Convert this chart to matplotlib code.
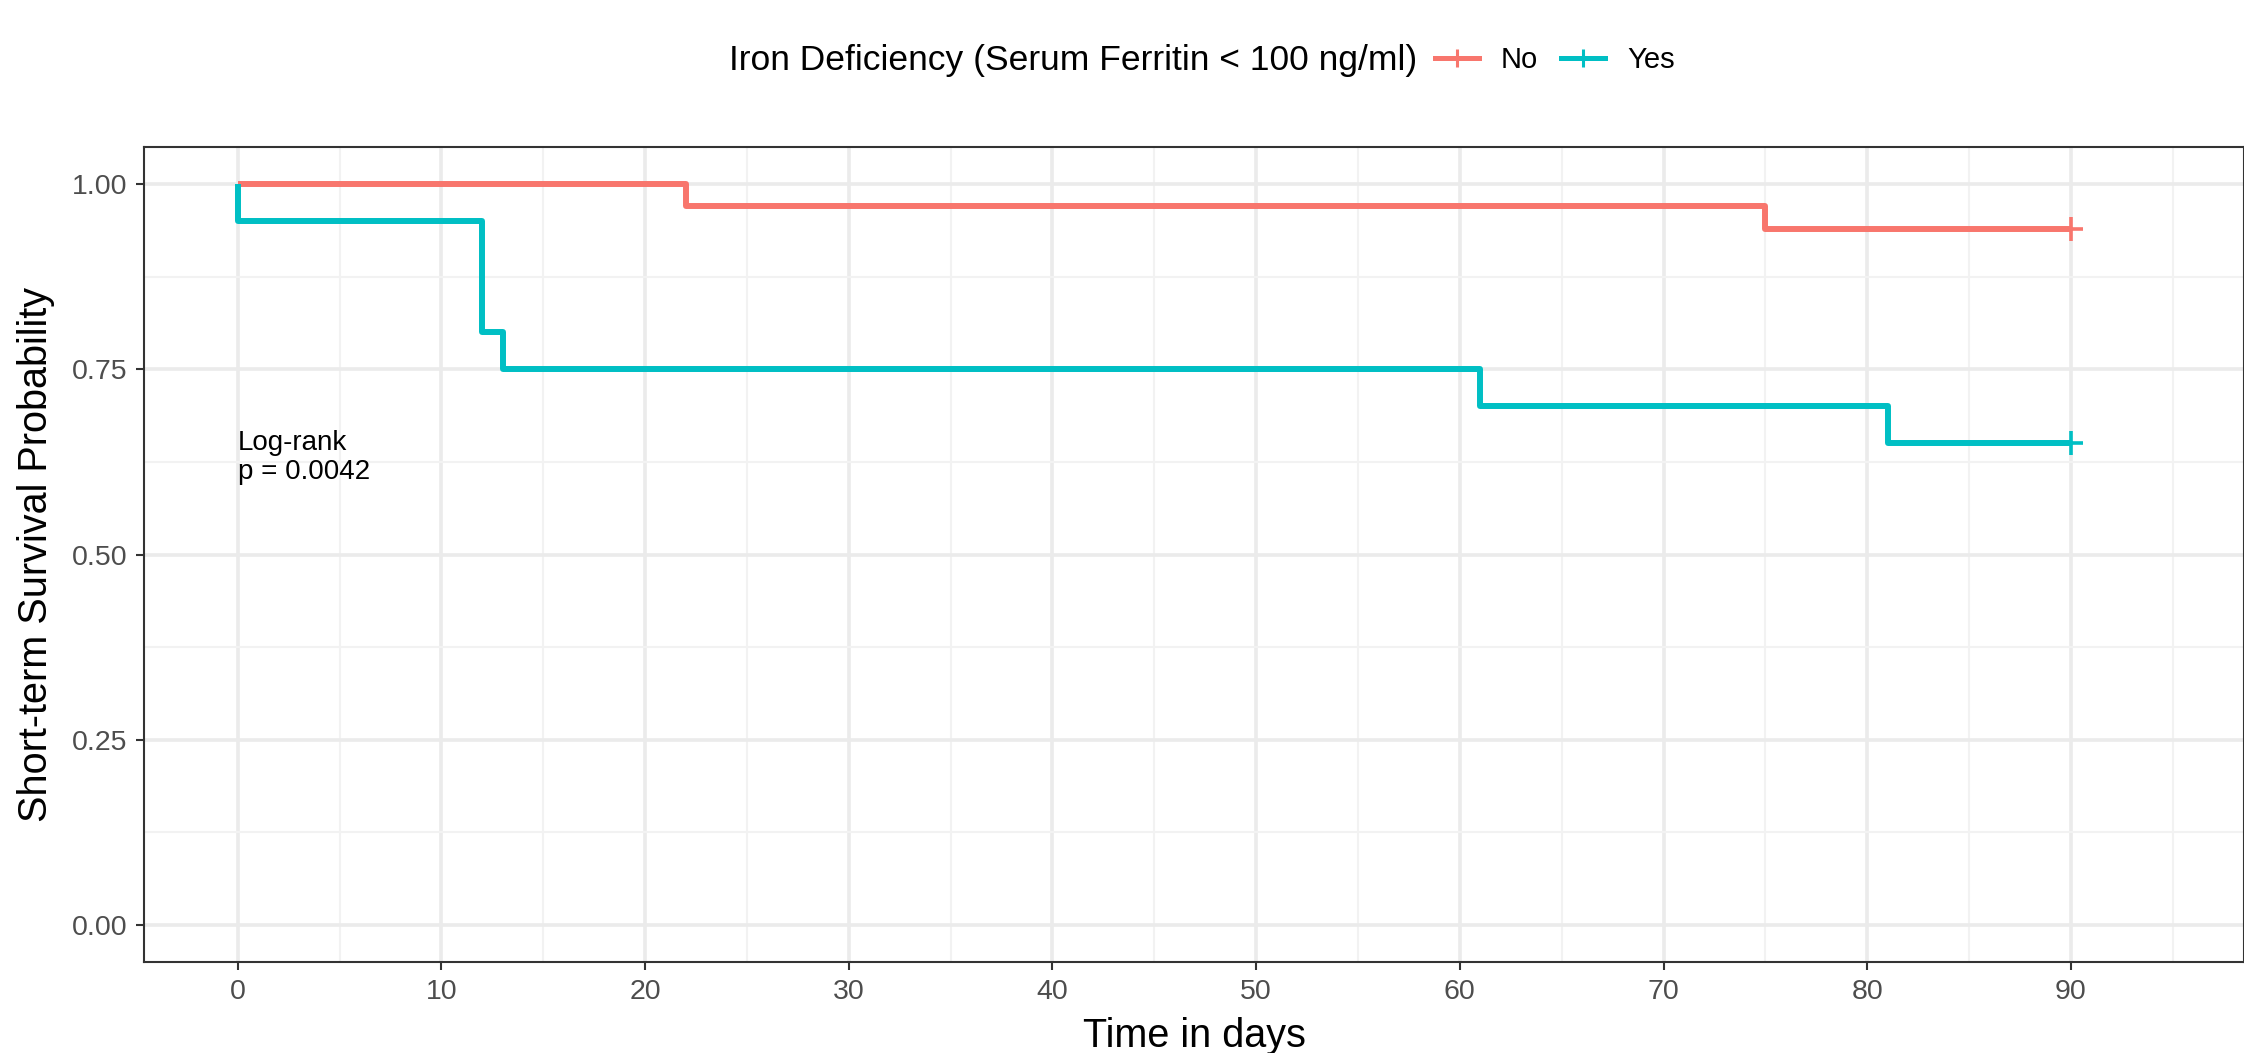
import numpy as np
import matplotlib
matplotlib.use("Agg")
import matplotlib.pyplot as plt
from matplotlib.lines import Line2D

plt.rcParams['font.family'] = ['Liberation Sans', 'DejaVu Sans']

# Kaplan-Meier step data
time_no = [0, 22, 75, 90]
surv_no = [1.00, 0.97, 0.94, 0.94]
time_yes = [0, 0, 12, 13, 61, 81, 90]
surv_yes = [1.00, 0.95, 0.80, 0.75, 0.70, 0.65, 0.65]
groups = ['No', 'Yes']
colors = ['#F8766D', '#00BFC4']
x_ticks = [0, 10, 20, 30, 40, 50, 60, 70, 80, 90]
y_ticks = [0.00, 0.25, 0.50, 0.75, 1.00]
pval_text = "Log-rank\np = 0.0042"

fig = plt.figure(figsize=(22.44, 10.53), dpi=100)
ax = fig.add_axes([0.0642, 0.0864, 0.9358, 0.774])

ax.step(time_no, surv_no, where='post', color=colors[0], lw=4.3, solid_capstyle='butt', zorder=3)
ax.step(time_yes, surv_yes, where='post', color=colors[1], lw=4.3, solid_capstyle='butt', zorder=3)
ax.plot([time_no[-1]], [surv_no[-1]], marker='+', ms=17, mew=2.6, color=colors[0], zorder=4)
ax.plot([time_yes[-1]], [surv_yes[-1]], marker='+', ms=17, mew=2.6, color=colors[1], zorder=4)

ax.set_xlim(-4.6, 98.5)
ax.set_ylim(-0.05, 1.05)
ax.set_xticks(x_ticks)
ax.set_yticks(y_ticks)
ax.set_yticklabels([f"{v:.2f}" for v in y_ticks])
ax.set_xticks(np.arange(5, 100, 10), minor=True)
ax.set_yticks(np.arange(0.125, 1.05, 0.25), minor=True)
ax.tick_params(which='minor', length=0)
ax.tick_params(which='major', length=6, width=1.5, color='#333333', labelcolor='#4D4D4D',
               labelsize=20.5, pad=6)
ax.grid(which='major', color='#EBEBEB', lw=2.6, zorder=0)
ax.grid(which='minor', color='#F2F2F2', lw=1.5, zorder=0)
ax.set_axisbelow(True)
for s in ax.spines.values():
    s.set_color('#333333')
    s.set_linewidth(1.5)

ax.set_xlabel("Time in days", fontsize=28.5, labelpad=9)
ax.set_ylabel("Short-term Survival Probability", fontsize=28.5, labelpad=12)

ax.text(0, 0.668, pval_text, fontsize=20, va='top', ha='left', linespacing=1.15)

fig.text(0.6314, 0.943, "Iron Deficiency (Serum Ferritin < 100 ng/ml)", fontsize=25.5,
         ha='right', va='center')
handles = [Line2D([], [], color=c, lw=3.6, marker='+', ms=13, mew=2.2) for c in colors]
fig.legend(handles, groups, loc='center left', bbox_to_anchor=(0.6395, 0.943), ncol=2,
           frameon=False, fontsize=21, borderpad=0, borderaxespad=0,
           handlelength=1.5, handletextpad=0.75, columnspacing=0.8)

fig.savefig("out.png", dpi=100)
